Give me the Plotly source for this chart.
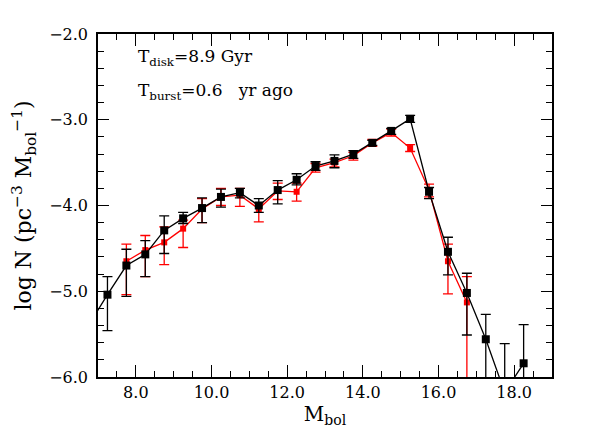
import plotly.graph_objects as go

# magnitude bins (M_bol)
mbol_black = [6.75, 7.25, 7.75, 8.25, 8.75, 9.25, 9.75, 10.25, 10.75, 11.25, 11.75, 12.25,
              12.75, 13.25, 13.75, 14.25, 14.75, 15.25, 15.75, 16.25, 16.75, 17.25, 17.75, 18.25]
logn_black = [-5.40, -5.04, -4.70, -4.57, -4.29, -4.15, -4.03, -3.90, -3.85, -4.00, -3.82, -3.70,
              -3.54, -3.48, -3.40, -3.27, -3.13, -2.99, -3.84, -4.54, -5.02, -5.56, -6.18, -5.84]
black_hi = [-5.40, -4.83, -4.51, -4.41, -4.12, -4.08, -3.91, -3.81, -3.80, -3.92, -3.71, -3.63,
            -3.49, -3.41, -3.36, -3.24, -3.10, -2.95, -3.79, -4.37, -4.79, -5.27, -5.61, -5.39]
black_lo = [-5.40, -5.46, -5.06, -4.83, -4.56, -4.21, -4.20, -4.02, -3.91, -4.08, -3.98, -3.76,
            -3.59, -3.56, -3.45, -3.30, -3.17, -3.03, -3.92, -4.81, -5.51, -7.00, -7.00, -7.00]

mbol_red = [7.75, 8.25, 8.75, 9.25, 9.75, 10.25, 10.75, 11.25, 11.75, 12.25,
            12.75, 13.25, 13.75, 14.25, 14.75, 15.25, 15.75, 16.25, 16.75]
logn_red = [-4.65, -4.52, -4.43, -4.27, -4.04, -3.90, -3.88, -4.04, -3.83, -3.84,
            -3.56, -3.50, -3.42, -3.27, -3.15, -3.33, -3.82, -4.65, -5.13]
red_hi = [-4.45, -4.35, -4.25, -4.17, -3.92, -3.80, -3.80, -3.97, -3.74, -3.74,
          -3.51, -3.46, -3.38, -3.23, -3.11, -3.29, -3.75, -4.45, -4.83]
red_lo = [-5.04, -4.83, -4.69, -4.49, -4.20, -4.00, -4.01, -4.19, -3.93, -3.95,
          -3.61, -3.55, -3.47, -3.31, -3.19, -3.37, -3.90, -5.03, -7.00]

FONT = "DejaVu Serif"


def errs(y, hi, lo):
    return [h - v for v, h in zip(y, hi)], [v - l for v, l in zip(y, lo)]


fig = go.Figure()

up, dn = errs(logn_red, red_hi, red_lo)
fig.add_trace(go.Scatter(
    x=mbol_red, y=logn_red, mode="lines+markers",
    line=dict(color="#ff0000", width=1.3),
    marker=dict(symbol="square", size=6, color="#ff0000"),
    error_y=dict(type="data", symmetric=False, array=up, arrayminus=dn,
                 color="#ff0000", thickness=1.3, width=5),
    showlegend=False,
))

up, dn = errs(logn_black, black_hi, black_lo)
fig.add_trace(go.Scatter(
    x=mbol_black, y=logn_black, mode="lines+markers",
    line=dict(color="black", width=1.3),
    marker=dict(symbol="square", size=8, color="black"),
    error_y=dict(type="data", symmetric=False, array=up, arrayminus=dn,
                 color="black", thickness=1.3, width=5),
    showlegend=False,
))

fig.add_annotation(x=8.0, y=-2.27, xref="x", yref="y", xanchor="left", showarrow=False,
                   text="T<sub>disk</sub>=8.9 Gyr", font=dict(family=FONT, size=17, color="black"))
fig.add_annotation(x=8.0, y=-2.67, xref="x", yref="y", xanchor="left", showarrow=False,
                   text="T<sub>burst</sub>=0.6\u00a0\u00a0 yr ago", font=dict(family=FONT, size=17, color="black"))

axis_common = dict(
    showline=True, linecolor="black", linewidth=1.6, mirror="allticks",
    ticks="inside", tickcolor="black", tickwidth=1.3,
    showgrid=False, zeroline=False,
    tickfont=dict(family=FONT, size=16, color="black"),
)

# the page body adds an 8px offset, so margins are shifted to compensate
fig.update_layout(
    width=598, height=435,
    paper_bgcolor="white", plot_bgcolor="white",
    margin=dict(l=90, r=54, t=26, b=66),
    xaxis=dict(
        range=[7, 19], tickvals=[8, 10, 12, 14, 16, 18], tickformat=".1f", ticklen=12,
        minor=dict(dtick=0.5, tick0=7, ticks="inside", ticklen=6, tickcolor="black", tickwidth=1.3),
        title=dict(text="M<sub>bol</sub>", font=dict(family=FONT, size=20, color="black"), standoff=6),
        **axis_common,
    ),
    yaxis=dict(
        range=[-6, -2], dtick=1, tickformat=".1f", ticklen=11, ticklabelstandoff=5,
        minor=dict(dtick=0.2, ticks="inside", ticklen=6, tickcolor="black", tickwidth=1.3),
        title=dict(text="log N (pc<sup>\u22123</sup> M<sub>bol</sub><sup>\u22121</sup>)",
                   font=dict(family=FONT, size=22, color="black"), standoff=14),
        **axis_common,
    ),
)

fig.write_html("out.html")
